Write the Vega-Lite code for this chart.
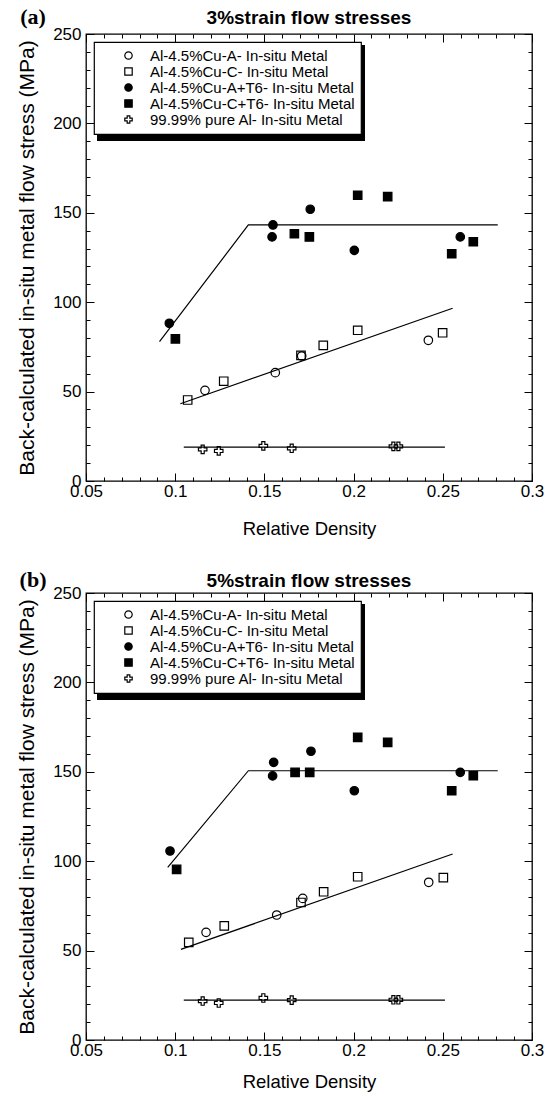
{
  "$schema": "https://vega.github.io/schema/vega-lite/v6.json",
  "padding": {"left": 15, "top": 5, "right": 5, "bottom": 5},
  "spacing": 28,
  "config": {
    "font": "Liberation Sans",
    "view": {"stroke": "black", "strokeWidth": 1.3},
    "axis": {"tickColor": "black", "tickWidth": 1, "labelColor": "black", "titleColor": "black", "labelFont": "Liberation Sans", "titleFont": "Liberation Sans", "titleFontWeight": "normal", "grid": false, "domain": false, "labelFlush": false, "labelOverlap": false},
    "legend": {"orient": "top-left", "offset": 8, "padding": 6, "symbolOffset": 21, "labelOffset": 14, "rowPadding": 0, "strokeColor": "black", "strokeWidth": 1.2, "fillColor": "white", "labelFontSize": 15, "labelFont": "Liberation Sans", "labelColor": "black", "symbolSize": 55, "symbolStrokeColor": "black", "symbolStrokeWidth": 1.2, "labelLimit": 400, "zindex": 1},
    "title": {"font": "Liberation Sans", "fontSize": 19, "fontWeight": "bold", "color": "black", "offset": -22}
  },
  "datasets": {
    "pts": [
      {"p": "a", "s": "Al-4.5%Cu-A- In-situ Metal", "x": 0.1167, "y": 50.7},
      {"p": "a", "s": "Al-4.5%Cu-A- In-situ Metal", "x": 0.1561, "y": 60.6},
      {"p": "a", "s": "Al-4.5%Cu-A- In-situ Metal", "x": 0.1709, "y": 69.9},
      {"p": "a", "s": "Al-4.5%Cu-A- In-situ Metal", "x": 0.2419, "y": 78.7},
      {"p": "a", "s": "Al-4.5%Cu-C- In-situ Metal", "x": 0.1070, "y": 45.3},
      {"p": "a", "s": "Al-4.5%Cu-C- In-situ Metal", "x": 0.1272, "y": 55.8},
      {"p": "a", "s": "Al-4.5%Cu-C- In-situ Metal", "x": 0.1705, "y": 70.3},
      {"p": "a", "s": "Al-4.5%Cu-C- In-situ Metal", "x": 0.1830, "y": 75.9},
      {"p": "a", "s": "Al-4.5%Cu-C- In-situ Metal", "x": 0.2023, "y": 84.3},
      {"p": "a", "s": "Al-4.5%Cu-C- In-situ Metal", "x": 0.2499, "y": 82.9},
      {"p": "a", "s": "Al-4.5%Cu-A+T6- In-situ Metal", "x": 0.0967, "y": 88.2},
      {"p": "a", "s": "Al-4.5%Cu-A+T6- In-situ Metal", "x": 0.1548, "y": 143.2},
      {"p": "a", "s": "Al-4.5%Cu-A+T6- In-situ Metal", "x": 0.1543, "y": 136.5},
      {"p": "a", "s": "Al-4.5%Cu-A+T6- In-situ Metal", "x": 0.1757, "y": 152.0},
      {"p": "a", "s": "Al-4.5%Cu-A+T6- In-situ Metal", "x": 0.2004, "y": 129.0},
      {"p": "a", "s": "Al-4.5%Cu-A+T6- In-situ Metal", "x": 0.2598, "y": 136.5},
      {"p": "a", "s": "Al-4.5%Cu-C+T6- In-situ Metal", "x": 0.1001, "y": 79.5},
      {"p": "a", "s": "Al-4.5%Cu-C+T6- In-situ Metal", "x": 0.1668, "y": 138.3},
      {"p": "a", "s": "Al-4.5%Cu-C+T6- In-situ Metal", "x": 0.1752, "y": 136.5},
      {"p": "a", "s": "Al-4.5%Cu-C+T6- In-situ Metal", "x": 0.2023, "y": 159.8},
      {"p": "a", "s": "Al-4.5%Cu-C+T6- In-situ Metal", "x": 0.2191, "y": 159.0},
      {"p": "a", "s": "Al-4.5%Cu-C+T6- In-situ Metal", "x": 0.2550, "y": 127.1},
      {"p": "a", "s": "Al-4.5%Cu-C+T6- In-situ Metal", "x": 0.2671, "y": 133.8},
      {"p": "a", "s": "99.99% pure Al- In-situ Metal", "x": 0.1154, "y": 17.7},
      {"p": "a", "s": "99.99% pure Al- In-situ Metal", "x": 0.1244, "y": 16.8},
      {"p": "a", "s": "99.99% pure Al- In-situ Metal", "x": 0.1494, "y": 19.6},
      {"p": "a", "s": "99.99% pure Al- In-situ Metal", "x": 0.1653, "y": 18.3},
      {"p": "a", "s": "99.99% pure Al- In-situ Metal", "x": 0.2223, "y": 19.4},
      {"p": "a", "s": "99.99% pure Al- In-situ Metal", "x": 0.2251, "y": 19.4},
      {"p": "b", "s": "Al-4.5%Cu-A- In-situ Metal", "x": 0.1173, "y": 60.2},
      {"p": "b", "s": "Al-4.5%Cu-A- In-situ Metal", "x": 0.1569, "y": 69.9},
      {"p": "b", "s": "Al-4.5%Cu-A- In-situ Metal", "x": 0.1715, "y": 79.2},
      {"p": "b", "s": "Al-4.5%Cu-A- In-situ Metal", "x": 0.2421, "y": 88.2},
      {"p": "b", "s": "Al-4.5%Cu-C- In-situ Metal", "x": 0.1076, "y": 54.6},
      {"p": "b", "s": "Al-4.5%Cu-C- In-situ Metal", "x": 0.1275, "y": 63.8},
      {"p": "b", "s": "Al-4.5%Cu-C- In-situ Metal", "x": 0.1705, "y": 76.9},
      {"p": "b", "s": "Al-4.5%Cu-C- In-situ Metal", "x": 0.1832, "y": 82.9},
      {"p": "b", "s": "Al-4.5%Cu-C- In-situ Metal", "x": 0.2023, "y": 91.3},
      {"p": "b", "s": "Al-4.5%Cu-C- In-situ Metal", "x": 0.2503, "y": 90.8},
      {"p": "b", "s": "Al-4.5%Cu-A+T6- In-situ Metal", "x": 0.0971, "y": 105.7},
      {"p": "b", "s": "Al-4.5%Cu-A+T6- In-situ Metal", "x": 0.1552, "y": 155.3},
      {"p": "b", "s": "Al-4.5%Cu-A+T6- In-situ Metal", "x": 0.1546, "y": 147.7},
      {"p": "b", "s": "Al-4.5%Cu-A+T6- In-situ Metal", "x": 0.1761, "y": 161.5},
      {"p": "b", "s": "Al-4.5%Cu-A+T6- In-situ Metal", "x": 0.2004, "y": 139.4},
      {"p": "b", "s": "Al-4.5%Cu-A+T6- In-situ Metal", "x": 0.2598, "y": 149.7},
      {"p": "b", "s": "Al-4.5%Cu-C+T6- In-situ Metal", "x": 0.1008, "y": 95.4},
      {"p": "b", "s": "Al-4.5%Cu-C+T6- In-situ Metal", "x": 0.1672, "y": 149.7},
      {"p": "b", "s": "Al-4.5%Cu-C+T6- In-situ Metal", "x": 0.1754, "y": 149.7},
      {"p": "b", "s": "Al-4.5%Cu-C+T6- In-situ Metal", "x": 0.2023, "y": 169.3},
      {"p": "b", "s": "Al-4.5%Cu-C+T6- In-situ Metal", "x": 0.2191, "y": 166.5},
      {"p": "b", "s": "Al-4.5%Cu-C+T6- In-situ Metal", "x": 0.2550, "y": 139.4},
      {"p": "b", "s": "Al-4.5%Cu-C+T6- In-situ Metal", "x": 0.2671, "y": 147.8},
      {"p": "b", "s": "99.99% pure Al- In-situ Metal", "x": 0.1154, "y": 21.8},
      {"p": "b", "s": "99.99% pure Al- In-situ Metal", "x": 0.1244, "y": 20.7},
      {"p": "b", "s": "99.99% pure Al- In-situ Metal", "x": 0.1494, "y": 23.5},
      {"p": "b", "s": "99.99% pure Al- In-situ Metal", "x": 0.1653, "y": 22.3},
      {"p": "b", "s": "99.99% pure Al- In-situ Metal", "x": 0.2223, "y": 22.5},
      {"p": "b", "s": "99.99% pure Al- In-situ Metal", "x": 0.2251, "y": 22.5}
    ],
    "fits": [
      {"p": "a", "f": "T6", "x": 0.0912, "y": 78.0},
      {"p": "a", "f": "T6", "x": 0.1410, "y": 143.2},
      {"p": "a", "f": "T6", "x": 0.2808, "y": 143.2},
      {"p": "a", "f": "AC", "x": 0.1029, "y": 43.2},
      {"p": "a", "f": "AC", "x": 0.2555, "y": 96.6},
      {"p": "a", "f": "Al", "x": 0.1048, "y": 19.0},
      {"p": "a", "f": "Al", "x": 0.2512, "y": 19.0},
      {"p": "b", "f": "T6", "x": 0.0958, "y": 96.6},
      {"p": "b", "f": "T6", "x": 0.1410, "y": 150.6},
      {"p": "b", "f": "T6", "x": 0.2808, "y": 150.6},
      {"p": "b", "f": "AC", "x": 0.1032, "y": 50.7},
      {"p": "b", "f": "AC", "x": 0.2555, "y": 104.0},
      {"p": "b", "f": "Al", "x": 0.1048, "y": 22.3},
      {"p": "b", "f": "Al", "x": 0.2512, "y": 22.3}
    ],
    "tags": [
      {"p": "a", "tag": "(a)"},
      {"p": "b", "tag": "(b)"}
    ]
  },
  "resolve": {
    "scale": {"x": "independent", "y": "independent", "shape": "independent", "fill": "independent", "stroke": "independent"},
    "legend": {"shape": "independent", "fill": "independent", "stroke": "independent"}
  },
  "vconcat": [
    {
      "width": 446,
      "height": 447,
      "title": {"text": "3%strain flow stresses"},
      "resolve": {"axis": {"x": "independent", "y": "independent"}},
      "layer": [
        {
          "data": {"name": "fits"},
          "transform": [{"filter": "datum.p == 'a'"}],
          "mark": {"type": "line", "color": "black", "strokeWidth": 1.2},
          "encoding": {
            "x": {"field": "x", "type": "quantitative", "scale": {"domain": [0.05, 0.3], "nice": false, "zero": false},
              "axis": {"orient": "bottom", "values": [0.06,0.07,0.08,0.09,0.11,0.12,0.13,0.14,0.16,0.17,0.18,0.19,0.21,0.22,0.23,0.24,0.26,0.27,0.28,0.29], "tickSize": -4, "labels": false, "title": null}},
            "y": {"field": "y", "type": "quantitative", "scale": {"domain": [0, 250], "nice": false, "zero": false},
              "axis": {"orient": "left", "values": [10,20,30,40,60,70,80,90,110,120,130,140,160,170,180,190,210,220,230,240], "tickSize": -4, "labels": false, "title": null}},
            "detail": {"field": "f"}
          }
        },
        {
          "data": {"name": "tags"},
          "transform": [{"filter": "datum.p == 'a'"}],
          "mark": {"type": "rect", "color": "black"},
          "encoding": {
            "x": {"datum": 0.05617, "type": "quantitative", "scale": {"domain": [0.05, 0.3], "nice": false, "zero": false},
              "axis": {"orient": "top", "values": [0.06,0.07,0.08,0.09,0.11,0.12,0.13,0.14,0.16,0.17,0.18,0.19,0.21,0.22,0.23,0.24,0.26,0.27,0.28,0.29], "tickSize": -4, "labels": false, "title": null}},
            "x2": {"datum": 0.20639},
            "y": {"datum": 194.07, "type": "quantitative", "scale": {"domain": [0, 250], "nice": false, "zero": false},
              "axis": {"orient": "right", "values": [10,20,30,40,60,70,80,90,110,120,130,140,160,170,180,190,210,220,230,240], "tickSize": -4, "labels": false, "title": null}},
            "y2": {"datum": 190.16}
          }
        },
        {
          "data": {"name": "tags"},
          "transform": [{"filter": "datum.p == 'a'"}],
          "mark": {"type": "rect", "color": "black"},
          "encoding": {
            "x": {"datum": 0.20191, "type": "quantitative", "scale": {"domain": [0.05, 0.3], "nice": false, "zero": false}, "axis": null},
            "x2": {"datum": 0.20639},
            "y": {"datum": 243.85, "type": "quantitative", "scale": {"domain": [0, 250], "nice": false, "zero": false}, "axis": null},
            "y2": {"datum": 190.16}
          }
        },
        {
          "data": {"name": "pts"},
          "transform": [{"filter": "datum.p == 'a'"}],
          "mark": {"type": "point", "strokeWidth": 1.2, "opacity": 1, "fillOpacity": 1, "size": 72},
          "encoding": {
            "x": {"field": "x", "type": "quantitative", "scale": {"domain": [0.05, 0.3], "nice": false, "zero": false},
              "axis": {"orient": "bottom", "values": [0.05,0.1,0.15,0.2,0.25,0.3], "format": ".2~f", "tickSize": -8, "labelPadding": 10, "labelFontSize": 17, "title": "Relative Density", "titleFontSize": 18.5, "titlePadding": 20}},
            "y": {"field": "y", "type": "quantitative", "scale": {"domain": [0, 250], "nice": false, "zero": false},
              "axis": {"orient": "left", "values": [0,50,100,150,200,250], "tickSize": -8, "labelPadding": 13, "labelFontSize": 17, "title": "Back-calculated in-situ metal flow stress (MPa)", "titleFontSize": 21, "titlePadding": 15}},
            "shape": {"field": "s", "type": "nominal", "title": null,
              "scale": {"domain": ["Al-4.5%Cu-A- In-situ Metal", "Al-4.5%Cu-C- In-situ Metal", "Al-4.5%Cu-A+T6- In-situ Metal", "Al-4.5%Cu-C+T6- In-situ Metal", "99.99% pure Al- In-situ Metal"],
                "range": ["circle", "square", "circle", "square", "M-0.36,-1L0.36,-1L0.36,-0.36L1,-0.36L1,0.36L0.36,0.36L0.36,1L-0.36,1L-0.36,0.36L-1,0.36L-1,-0.36L-0.36,-0.36Z"]}},
            "fill": {"field": "s", "type": "nominal", "title": null,
              "scale": {"domain": ["Al-4.5%Cu-A- In-situ Metal", "Al-4.5%Cu-C- In-situ Metal", "Al-4.5%Cu-A+T6- In-situ Metal", "Al-4.5%Cu-C+T6- In-situ Metal", "99.99% pure Al- In-situ Metal"],
                "range": ["transparent", "transparent", "black", "black", "transparent"]}},
            "stroke": {"field": "s", "type": "nominal", "title": null,
              "scale": {"domain": ["Al-4.5%Cu-A- In-situ Metal", "Al-4.5%Cu-C- In-situ Metal", "Al-4.5%Cu-A+T6- In-situ Metal", "Al-4.5%Cu-C+T6- In-situ Metal", "99.99% pure Al- In-situ Metal"],
                "range": ["black", "black", "black", "black", "black"]}}
          }
        },
        {
          "data": {"name": "tags"},
          "transform": [{"filter": "datum.p == 'a'"}],
          "mark": {"type": "text", "font": "Liberation Serif", "fontWeight": "bold", "fontSize": 22, "align": "center", "baseline": "middle", "color": "black"},
          "encoding": {
            "text": {"field": "tag"},
            "x": {"datum": 0.0203, "type": "quantitative", "scale": {"domain": [0.05, 0.3], "nice": false, "zero": false},
              "axis": {"orient": "top", "values": [0.05,0.1,0.15,0.2,0.25,0.3], "tickSize": -8, "labels": false, "title": null}},
            "y": {"datum": 259.5, "type": "quantitative", "scale": {"domain": [0, 250], "nice": false, "zero": false},
              "axis": {"orient": "right", "values": [0,50,100,150,200,250], "tickSize": -8, "labels": false, "title": null}}
          }
        }
      ]
    },
    {
      "width": 446,
      "height": 447,
      "title": {"text": "5%strain flow stresses"},
      "resolve": {"axis": {"x": "independent", "y": "independent"}},
      "layer": [
        {
          "data": {"name": "fits"},
          "transform": [{"filter": "datum.p == 'b'"}],
          "mark": {"type": "line", "color": "black", "strokeWidth": 1.2},
          "encoding": {
            "x": {"field": "x", "type": "quantitative", "scale": {"domain": [0.05, 0.3], "nice": false, "zero": false},
              "axis": {"orient": "bottom", "values": [0.06,0.07,0.08,0.09,0.11,0.12,0.13,0.14,0.16,0.17,0.18,0.19,0.21,0.22,0.23,0.24,0.26,0.27,0.28,0.29], "tickSize": -4, "labels": false, "title": null}},
            "y": {"field": "y", "type": "quantitative", "scale": {"domain": [0, 250], "nice": false, "zero": false},
              "axis": {"orient": "left", "values": [10,20,30,40,60,70,80,90,110,120,130,140,160,170,180,190,210,220,230,240], "tickSize": -4, "labels": false, "title": null}},
            "detail": {"field": "f"}
          }
        },
        {
          "data": {"name": "tags"},
          "transform": [{"filter": "datum.p == 'b'"}],
          "mark": {"type": "rect", "color": "black"},
          "encoding": {
            "x": {"datum": 0.05617, "type": "quantitative", "scale": {"domain": [0.05, 0.3], "nice": false, "zero": false},
              "axis": {"orient": "top", "values": [0.06,0.07,0.08,0.09,0.11,0.12,0.13,0.14,0.16,0.17,0.18,0.19,0.21,0.22,0.23,0.24,0.26,0.27,0.28,0.29], "tickSize": -4, "labels": false, "title": null}},
            "x2": {"datum": 0.20639},
            "y": {"datum": 194.07, "type": "quantitative", "scale": {"domain": [0, 250], "nice": false, "zero": false},
              "axis": {"orient": "right", "values": [10,20,30,40,60,70,80,90,110,120,130,140,160,170,180,190,210,220,230,240], "tickSize": -4, "labels": false, "title": null}},
            "y2": {"datum": 190.16}
          }
        },
        {
          "data": {"name": "tags"},
          "transform": [{"filter": "datum.p == 'b'"}],
          "mark": {"type": "rect", "color": "black"},
          "encoding": {
            "x": {"datum": 0.20191, "type": "quantitative", "scale": {"domain": [0.05, 0.3], "nice": false, "zero": false}, "axis": null},
            "x2": {"datum": 0.20639},
            "y": {"datum": 243.85, "type": "quantitative", "scale": {"domain": [0, 250], "nice": false, "zero": false}, "axis": null},
            "y2": {"datum": 190.16}
          }
        },
        {
          "data": {"name": "pts"},
          "transform": [{"filter": "datum.p == 'b'"}],
          "mark": {"type": "point", "strokeWidth": 1.2, "opacity": 1, "fillOpacity": 1, "size": 72},
          "encoding": {
            "x": {"field": "x", "type": "quantitative", "scale": {"domain": [0.05, 0.3], "nice": false, "zero": false},
              "axis": {"orient": "bottom", "values": [0.05,0.1,0.15,0.2,0.25,0.3], "format": ".2~f", "tickSize": -8, "labelPadding": 10, "labelFontSize": 17, "title": "Relative Density", "titleFontSize": 18.5, "titlePadding": 14}},
            "y": {"field": "y", "type": "quantitative", "scale": {"domain": [0, 250], "nice": false, "zero": false},
              "axis": {"orient": "left", "values": [0,50,100,150,200,250], "tickSize": -8, "labelPadding": 13, "labelFontSize": 17, "title": "Back-calculated in-situ metal flow stress (MPa)", "titleFontSize": 21, "titlePadding": 15}},
            "shape": {"field": "s", "type": "nominal", "title": null,
              "scale": {"domain": ["Al-4.5%Cu-A- In-situ Metal", "Al-4.5%Cu-C- In-situ Metal", "Al-4.5%Cu-A+T6- In-situ Metal", "Al-4.5%Cu-C+T6- In-situ Metal", "99.99% pure Al- In-situ Metal"],
                "range": ["circle", "square", "circle", "square", "M-0.36,-1L0.36,-1L0.36,-0.36L1,-0.36L1,0.36L0.36,0.36L0.36,1L-0.36,1L-0.36,0.36L-1,0.36L-1,-0.36L-0.36,-0.36Z"]}},
            "fill": {"field": "s", "type": "nominal", "title": null,
              "scale": {"domain": ["Al-4.5%Cu-A- In-situ Metal", "Al-4.5%Cu-C- In-situ Metal", "Al-4.5%Cu-A+T6- In-situ Metal", "Al-4.5%Cu-C+T6- In-situ Metal", "99.99% pure Al- In-situ Metal"],
                "range": ["transparent", "transparent", "black", "black", "transparent"]}},
            "stroke": {"field": "s", "type": "nominal", "title": null,
              "scale": {"domain": ["Al-4.5%Cu-A- In-situ Metal", "Al-4.5%Cu-C- In-situ Metal", "Al-4.5%Cu-A+T6- In-situ Metal", "Al-4.5%Cu-C+T6- In-situ Metal", "99.99% pure Al- In-situ Metal"],
                "range": ["black", "black", "black", "black", "black"]}}
          }
        },
        {
          "data": {"name": "tags"},
          "transform": [{"filter": "datum.p == 'b'"}],
          "mark": {"type": "text", "font": "Liberation Serif", "fontWeight": "bold", "fontSize": 22, "align": "center", "baseline": "middle", "color": "black"},
          "encoding": {
            "text": {"field": "tag"},
            "x": {"datum": 0.0203, "type": "quantitative", "scale": {"domain": [0.05, 0.3], "nice": false, "zero": false},
              "axis": {"orient": "top", "values": [0.05,0.1,0.15,0.2,0.25,0.3], "tickSize": -8, "labels": false, "title": null}},
            "y": {"datum": 257.5, "type": "quantitative", "scale": {"domain": [0, 250], "nice": false, "zero": false},
              "axis": {"orient": "right", "values": [0,50,100,150,200,250], "tickSize": -8, "labels": false, "title": null}}
          }
        }
      ]
    }
  ]
}
